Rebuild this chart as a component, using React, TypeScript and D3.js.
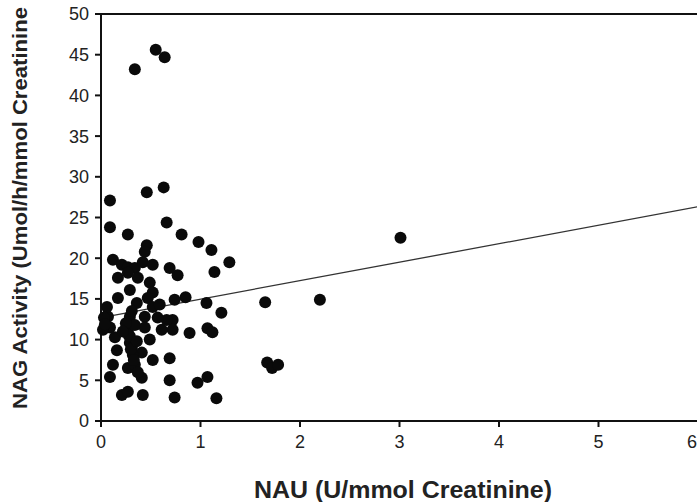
import React from "react";
import * as d3 from "d3";

// NAU (x) vs NAG activity (y)
const nauValues = [
  0.55, 0.64, 0.34, 0.09, 0.46, 0.63, 0.09, 0.27, 0.66, 0.81,
  0.98, 1.11, 1.29, 1.14, 0.77, 0.69, 3.01, 2.2, 1.65, 1.67,
  1.72, 1.78, 1.06, 1.21, 1.07, 1.12, 0.89, 0.85, 0.74, 0.72,
  0.72, 0.69, 0.69, 0.74, 1.16, 1.07, 0.97, 0.46, 0.44, 0.12,
  0.21, 0.27, 0.34, 0.42, 0.52, 0.17, 0.27, 0.37, 0.49, 0.52,
  0.17, 0.36, 0.47, 0.52, 0.07, 0.09, 0.14, 0.29, 0.27, 0.29,
  0.44, 0.44, 0.49, 0.61, 0.66, 0.31, 0.41, 0.12, 0.09, 0.27,
  0.34, 0.52, 0.41, 0.21, 0.27, 0.42, 0.06, 0.02, 0.03, 0.29,
  0.32, 0.29, 0.34, 0.37, 0.57, 0.16, 0.59, 0.28, 0.3, 0.33,
  0.25, 0.36, 0.31, 0.22, 0.04,
];
const nagValues = [
  45.6, 44.7, 43.2, 27.1, 28.1, 28.7, 23.8, 22.9, 24.4, 22.9,
  22.0, 21.0, 19.5, 18.3, 17.9, 18.8, 22.5, 14.9, 14.6, 7.2,
  6.5, 6.9, 14.5, 13.3, 11.4, 10.9, 10.8, 15.2, 14.9, 12.4,
  11.2, 7.7, 5.0, 2.9, 2.8, 5.4, 4.7, 21.6, 20.8, 19.8,
  19.2, 18.9, 18.8, 19.5, 19.2, 17.6, 18.2, 17.6, 17.0, 15.8,
  15.1, 14.5, 15.1, 14.0, 12.8, 11.5, 10.3, 12.8, 11.2, 9.6,
  12.8, 11.5, 10.0, 11.2, 12.4, 9.0, 8.4, 6.9, 5.4, 6.5,
  6.9, 7.5, 5.3, 3.2, 3.6, 3.2, 14.0, 11.2, 12.7, 16.1,
  8.1, 10.4, 11.8, 6.0, 12.7, 8.7, 14.3, 10.5, 8.8, 7.5,
  12.0, 9.8, 13.5, 11.0, 11.9,
];

// fitted trend line endpoints
const trendX = [0.03, 6];
const trendIntercept = 12.7;
const trendSlope = 2.27;

const xTicks = [0, 1, 2, 3, 4, 5, 6];
const yTicks = [0, 5, 10, 15, 20, 25, 30, 35, 40, 45, 50];

export default function App() {
  const width = 697;
  const height = 502;
  const x = d3.scaleLinear().domain([0, 6]).range([101, 698]);
  const y = d3.scaleLinear().domain([0, 50]).range([421, 14]);

  const points = nauValues.map((v, i) => ({ x: v, y: nagValues[i] }));
  const trend = d3
    .line<number>()
    .x((d) => x(d))
    .y((d) => y(trendIntercept + trendSlope * d));

  const font = "'Liberation Sans', Arial, Helvetica, sans-serif";

  return (
    <svg
      width={width}
      height={height}
      style={{ position: "absolute", left: 0, top: 0, background: "#fff" }}
    >
      {/* frame: top edge and axes */}
      <line x1={x(0)} x2={width} y1={y(50)} y2={y(50)} stroke="#111" strokeWidth={2} />
      <line x1={x(0)} x2={x(0)} y1={y(50) - 1} y2={y(0) + 1} stroke="#111" strokeWidth={2} />
      <line x1={x(0) - 1} x2={width} y1={y(0)} y2={y(0)} stroke="#111" strokeWidth={2} />

      {yTicks.map((t) => (
        <g key={"y" + t}>
          <line x1={x(0) - 6} x2={x(0)} y1={y(t)} y2={y(t)} stroke="#111" strokeWidth={2} />
          <text
            x={x(0) - 12}
            y={y(t)}
            dy="0.36em"
            textAnchor="end"
            fontFamily={font}
            fontSize={18}
            fill="#222"
          >
            {t}
          </text>
        </g>
      ))}

      {xTicks.map((t) => (
        <g key={"x" + t}>
          <line x1={x(t)} x2={x(t)} y1={y(0)} y2={y(0) + 6} stroke="#111" strokeWidth={2} />
          <text
            x={Math.min(x(t), 692)}
            y={y(0) + 27}
            textAnchor="middle"
            fontFamily={font}
            fontSize={18}
            fill="#222"
          >
            {t}
          </text>
        </g>
      ))}

      <path d={trend(trendX) || ""} fill="none" stroke="#333" strokeWidth={1.3} />

      {points.map((p, i) => (
        <circle key={i} cx={x(p.x)} cy={y(p.y)} r={6} fill="#0a0a0a" />
      ))}

      <text
        x={403}
        y={498}
        textAnchor="middle"
        fontFamily={font}
        fontWeight="bold"
        fontSize={23}
        textLength={298}
        lengthAdjust="spacingAndGlyphs"
        fill="#222"
      >
        NAU (U/mmol Creatinine)
      </text>
      <text
        transform="translate(27,208) rotate(-90)"
        textAnchor="middle"
        fontFamily={font}
        fontWeight="bold"
        fontSize={21}
        textLength={402}
        lengthAdjust="spacingAndGlyphs"
        fill="#222"
      >
        NAG Activity (Umol/h/mmol Creatinine
      </text>
    </svg>
  );
}
